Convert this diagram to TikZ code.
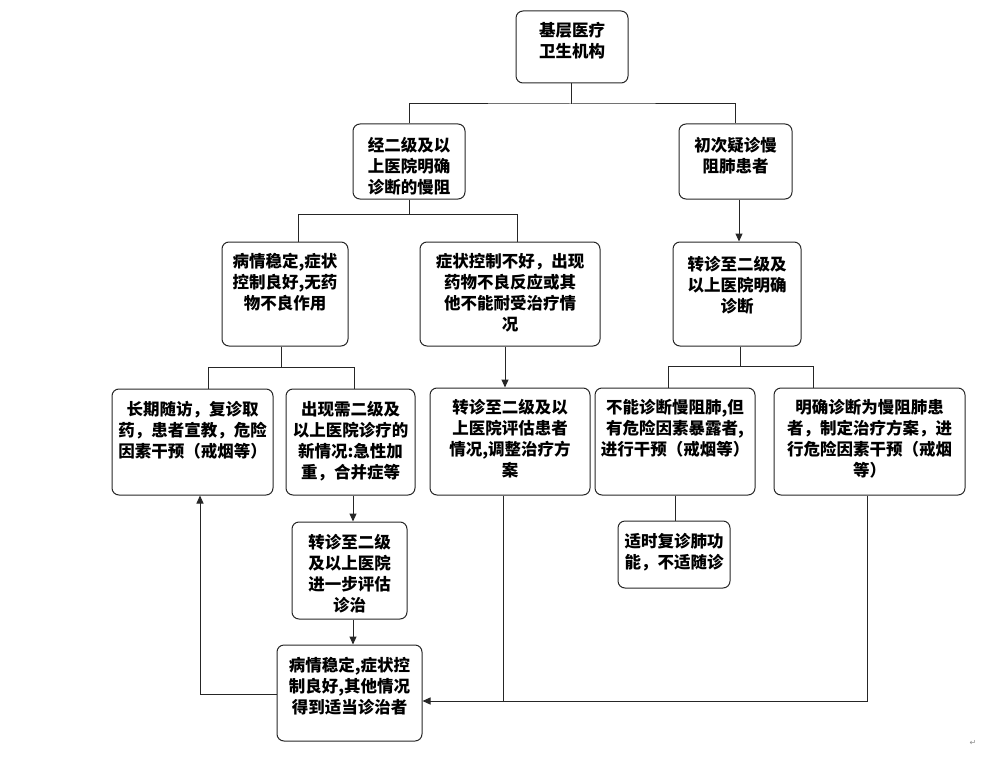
\documentclass[tikz,border=0pt]{standalone}
\usepackage{fontspec}
\setmainfont{Noto Sans CJK SC}
\newfontfamily\symfont{DejaVu Sans}
\usetikzlibrary{arrows.meta}
\tikzset{
  box/.style={draw=black!85, rounded corners=7pt, line width=1pt, inner sep=0pt,
    font={\fontsize{16.5}{20.8}\selectfont\bfseries}},
  conn/.style={draw=black!85, line width=1pt},
  arr/.style={conn, -{Triangle[length=8pt,width=7pt]}}
}
\newcommand\bx[7]{\node[box] (#1) at ({(#2+#4)/2},{(#3+#5)/2})
  {\parbox[c][\dimexpr #5pt-#3pt\relax][t]{\dimexpr #4pt-#2pt\relax}{\centering\vspace*{#6pt}#7\par}};}
\begin{document}
\begin{tikzpicture}[x=1pt,y=-1pt]
\useasboundingbox (0,0) rectangle (984,762);
\bx{B1}{516}{11}{628}{83}{11}{基层医疗\\卫生机构}
\bx{B2}{353}{124}{465}{199}{13.5}{经二级及以\\上医院明确\\诊断的慢阻}
\bx{B3}{679}{124}{792}{199}{13.5}{初次疑诊慢\\阻肺患者}
\bx{B4}{222}{242}{348}{346}{11.5}{病情稳定,症状\\控制良好,无药\\物不良作用}
\bx{B5}{420}{242}{600}{346}{11.5}{症状控制不好，出现\\药物不良反应或其\\他不能耐受治疗情\\况}
\bx{B6}{673}{242}{801}{346}{14.5}{转诊至二级及\\以上医院明确\\诊断}
\bx{B7}{112}{389}{273}{495}{12.5}{长期随访，复诊取\\药，患者宣教，危险\\因素干预（戒烟等）}
\bx{B8}{286}{389}{415}{495}{12.5}{出现需二级及\\以上医院诊疗的\\新情况:急性加\\重，合并症等}
\bx{B9}{430}{388}{590}{495}{11.5}{转诊至二级及以\\上医院评估患者\\情况,调整治疗方\\案}
\bx{B10}{595}{388}{755}{495}{11.5}{不能诊断慢阻肺,但\\有危险因素暴露者,\\进行干预（戒烟等）}
\bx{B11}{774}{388}{965}{495}{11.5}{明确诊断为慢阻肺患\\者，制定治疗方案，进\\行危险因素干预（戒烟\\等）}
\bx{B12}{618}{521}{730}{588}{12}{适时复诊肺功\\能，不适随诊}
\bx{B13}{292}{522}{407}{619}{12.5}{转诊至二级\\及以上医院\\进一步评估\\诊治}
\bx{B14}{277}{645}{422}{741}{12.5}{病情稳定,症状控\\制良好,其他情况\\得到适当诊治者}
% junction coordinates
\coordinate (j1) at (571,104);
\coordinate (j2) at (409,214);
\coordinate (k4) at (298,214);
\coordinate (k5) at (517,214);
\coordinate (j3) at (281,367);
\coordinate (k7) at (208,367);
\coordinate (k8) at (354,367);
\coordinate (k9) at (505,300);
\coordinate (k6) at (739,300);
\coordinate (j4) at (740,366);
\coordinate (k10) at (668,366);
\coordinate (k11t) at (813,366);
\coordinate (k12) at (675,500);
\coordinate (k13) at (353,500);
\coordinate (kL) at (200,694);
\coordinate (kR) at (503,701);
\coordinate (k11) at (867,701);
% connectors
\draw[conn] (B1.south -| j1) -- (j1);
\draw[conn] (B2.north) |- (j1) -| (B3.north);
\draw[arr] (B3.south -| k6) -- (k6 |- B6.north);
\draw[conn] (B2.south -| j2) -- (j2);
\draw[conn] (k4 |- B4.north) -- (k4) -- (k5) -- (k5 |- B5.north);
\draw[conn] (j3 |- B4.south) -- (j3);
\draw[conn] (k7 |- B7.north) -- (k7) -- (k8) -- (k8 |- B8.north);
\draw[arr] (k9 |- B5.south) -- (k9 |- B9.north);
\draw[conn] (j4 |- B6.south) -- (j4);
\draw[conn] (k10 |- B10.north) -- (k10) -- (k11t) -- (k11t |- B11.north);
\draw[conn] (k12 |- B10.south) -- (k12 |- B12.north);
\draw[arr] (k13 |- B8.south) -- (k13 |- B13.north);
\draw[arr] (k13 |- B13.south) -- (k13 |- B14.north);
\draw[arr] (B14.west |- kL) -- (kL) -- (kL |- B7.south);
\draw[arr] (kR |- B9.south) -- (kR) -- (kR -| B14.east);
\draw[conn] (k11 |- B11.south) -- (k11) -- (kR);
\node[text=black!45, font=\symfont\fontsize{8}{8}\selectfont] (pm) at (973,743) {↵};
\end{tikzpicture}
\end{document}
